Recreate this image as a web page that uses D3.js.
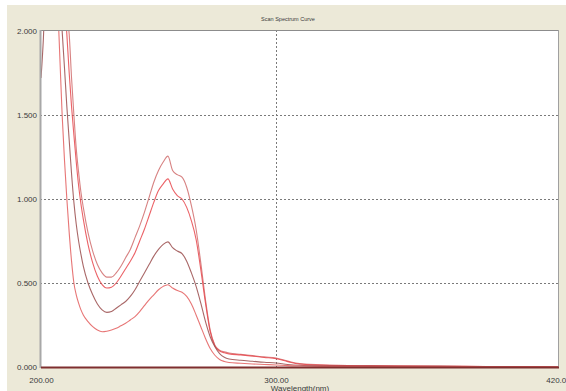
<!DOCTYPE html>
<html><head><meta charset="utf-8">
<script src="https://cdn.jsdelivr.net/npm/d3@7"></script>
<style>html,body{margin:0;padding:0;background:#fff;overflow:hidden}svg{display:block}</style>
</head><body>
<script>
const wavelengths = [200,201,202,204,206,207,208,209,210,211,212,213,214,215,216,217,218,220,222,224,226,228,230,232,234,236,238,240,242,244,246,248,250,252,254,256,258,260,262,264,266,268,270,272,274,276,278,280,285,290,295,300,305,310,320,340,360,380,400,420];
const seriesA = [2.9,3.0,3.1,3.2,3.1,2.9,2.7,2.5,2.3,2.1,1.98,1.72,1.5,1.3,1.16,1.04,0.95,0.80,0.69,0.61,0.56,0.535,0.535,0.56,0.60,0.65,0.70,0.77,0.84,0.92,1.01,1.10,1.17,1.22,1.255,1.17,1.145,1.13,1.07,0.96,0.82,0.62,0.40,0.22,0.13,0.10,0.09,0.083,0.075,0.068,0.06,0.054,0.035,0.02,0.012,0.008,0.006,0.004,0.002,0.0];
const seriesB = [2.8,2.9,3.0,3.1,3.0,2.8,2.6,2.4,2.2,1.98,1.75,1.55,1.38,1.22,1.08,0.97,0.88,0.73,0.62,0.54,0.49,0.47,0.475,0.50,0.54,0.585,0.63,0.68,0.75,0.82,0.90,0.98,1.05,1.09,1.12,1.06,1.02,1.0,0.95,0.87,0.76,0.58,0.38,0.21,0.125,0.095,0.085,0.078,0.072,0.065,0.057,0.05,0.032,0.018,0.011,0.007,0.005,0.004,0.002,0.0];
const seriesC = [1.72,1.95,2.3,2.8,2.7,2.5,2.25,2.0,1.78,1.55,1.35,1.15,0.98,0.85,0.75,0.67,0.6,0.5,0.43,0.375,0.34,0.325,0.33,0.35,0.37,0.39,0.42,0.46,0.51,0.56,0.61,0.66,0.70,0.73,0.745,0.71,0.69,0.675,0.63,0.56,0.48,0.38,0.27,0.18,0.12,0.08,0.058,0.048,0.04,0.034,0.028,0.024,0.015,0.01,0.007,0.005,0.004,0.003,0.002,0.0];
const seriesD = [2.6,2.7,2.8,2.9,2.5,2.2,1.85,1.5,1.23,1.0,0.8,0.63,0.5,0.43,0.38,0.34,0.31,0.27,0.24,0.22,0.21,0.213,0.22,0.23,0.245,0.26,0.28,0.30,0.33,0.365,0.40,0.43,0.46,0.48,0.49,0.47,0.455,0.445,0.42,0.375,0.31,0.24,0.17,0.11,0.07,0.045,0.033,0.027,0.022,0.018,0.015,0.012,0.008,0.006,0.004,0.003,0.002,0.002,0.001,0.0];
const seriesNames = ["A","B","C","D"];
const seriesColors = ["#d06c6c","#e8474c","#9a4c4c","#e35e5e"];
const yTicks = [0,0.5,1.0,1.5,2.0];
const yTickLabels = ["0.000","0.500","1.000","1.500","2.000"];
const xTicks = [200,300,420];
const xTickLabels = ["200.00","300.00","420.00"];
const titleText = "Scan Spectrum Curve";
const xAxisTitle = "Wavelength(nm)";

const W = 566, H = 391;
const plot = {left:41, right:558, top:30, bottom:367};
const svg = d3.select("body").append("svg").attr("width",W).attr("height",H);
svg.append("rect").attr("x",7).attr("y",5).attr("width",W-7).attr("height",H-5).attr("fill","#ECE9D8");
svg.append("rect").attr("x",plot.left).attr("y",plot.top).attr("width",plot.right-plot.left).attr("height",plot.bottom-plot.top).attr("fill","#fff");

const x = d3.scaleLinear().domain([200,420]).range([plot.left,plot.right]);
const y = d3.scaleLinear().domain([0,2]).range([plot.bottom,plot.top+1]);

const font = "'Liberation Sans', Arial, sans-serif";
// grid
const grid = svg.append("g").attr("stroke","#7a7a7a").attr("stroke-dasharray","2,2").attr("stroke-width",1);
yTicks.filter(v=>v>0 && v<2).forEach(v=>{
  grid.append("line").attr("x1",plot.left-1).attr("x2",plot.right).attr("y1",Math.round(y(v))+0.5).attr("y2",Math.round(y(v))+0.5);
});
grid.append("line").attr("x1",Math.round(x(300))+0.5).attr("x2",Math.round(x(300))+0.5).attr("y1",plot.top).attr("y2",plot.bottom);

// curves
svg.append("clipPath").attr("id","clip").append("rect").attr("x",plot.left).attr("y",plot.top+1).attr("width",plot.right-plot.left).attr("height",plot.bottom-plot.top);
const line = d3.line().x(d=>x(d[0])).y(d=>y(d[1])).curve(d3.curveMonotoneX);
const all = [seriesA,seriesB,seriesC,seriesD];
const cg = svg.append("g").attr("clip-path","url(#clip)");
all.forEach((s,i)=>{
  cg.append("path").datum(wavelengths.map((w,j)=>[w,s[j]])).attr("d",line)
    .attr("fill","none").attr("stroke",seriesColors[i]).attr("stroke-width",1.1).attr("stroke-opacity",0.85);
});

// frame
svg.append("line").attr("x1",plot.left).attr("x2",plot.right).attr("y1",plot.top+0.5).attr("y2",plot.top+0.5).attr("stroke","#8c8c8c");
svg.append("line").attr("x1",plot.left-0.5).attr("x2",plot.left-0.5).attr("y1",plot.top).attr("y2",plot.bottom+1).attr("stroke","#a8a8a8").attr("stroke-width",2);
svg.append("line").attr("x1",plot.right+0.5).attr("x2",plot.right+0.5).attr("y1",plot.top).attr("y2",plot.bottom+1).attr("stroke","#a0a0a0");
svg.append("line").attr("x1",plot.left).attr("x2",plot.right+1).attr("y1",plot.bottom+0.5).attr("y2",plot.bottom+0.5).attr("stroke","#7e2f2f").attr("stroke-width",2);

// y labels
const yAxis = d3.axisLeft(y).tickValues(yTicks).tickFormat((d,i)=>yTickLabels[i]).tickSize(0).tickPadding(3);
const ya = svg.append("g").attr("transform",`translate(${plot.left-1},0)`).call(yAxis);
ya.select(".domain").remove();
ya.selectAll("text").attr("font-family",font).attr("font-size",8).attr("fill","#3a3a3a");

// x labels
const xAxis = d3.axisBottom(x).tickValues(xTicks).tickFormat((d,i)=>xTickLabels[i]).tickSize(0).tickPadding(10);
const xa = svg.append("g").attr("transform",`translate(0,${plot.bottom})`).call(xAxis);
xa.select(".domain").remove();
xa.selectAll("text").attr("font-family",font).attr("font-size",8).attr("fill","#3a3a3a");

svg.append("text").attr("x",300).attr("y",390.5).attr("text-anchor","middle").attr("font-family",font).attr("font-size",8).attr("fill","#3a3a3a").text(xAxisTitle);
svg.append("text").attr("x",288).attr("y",21).attr("text-anchor","middle").attr("font-family",font).attr("font-size",5.5).attr("fill","#3a3a3a").text(titleText);
</script>
</body></html>
